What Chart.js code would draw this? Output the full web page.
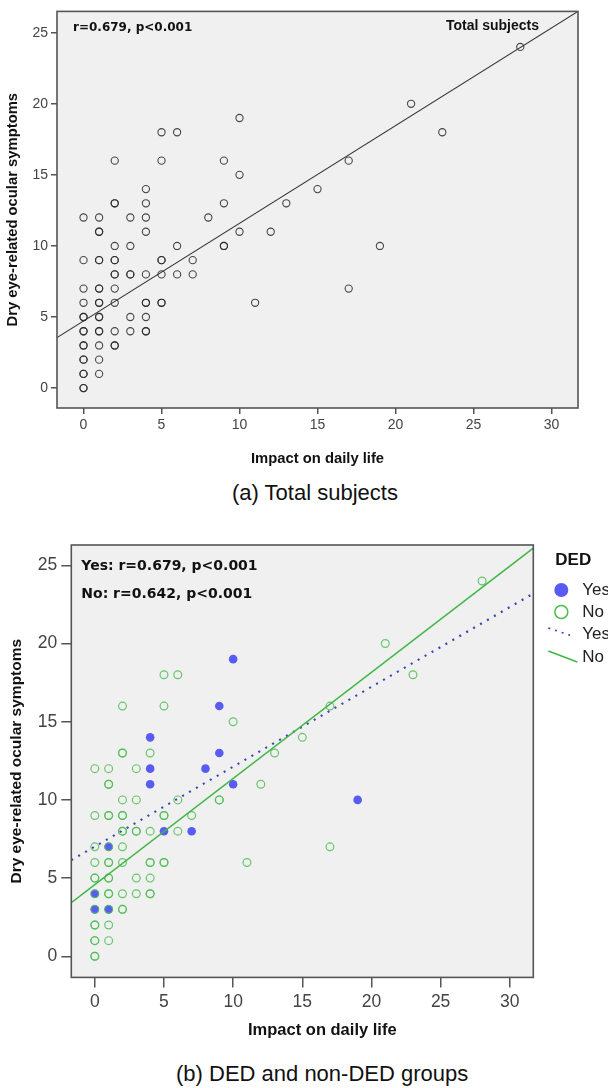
<!DOCTYPE html>
<html>
<head>
<meta charset="utf-8">
<title>Dry eye symptoms vs impact on daily life</title>
<script src="https://cdn.jsdelivr.net/npm/chart.js@4.4.1/dist/chart.umd.min.js"></script>
<style>
  body { margin: 0; width: 608px; height: 1088px; background: #fff; position: relative; overflow: hidden;
         font-family: "Liberation Sans", Arial, Helvetica, sans-serif; }
  canvas { position: absolute; left: 0; }
  #totalChart { top: 0; }
  #groupChart { top: 530px; }
  .caption { position: absolute; font-size: 22px; color: #111; white-space: nowrap; }
</style>
</head>
<body>
<canvas id="totalChart" width="608" height="472"></canvas>
<div class="caption" style="left:232px; top:480px;">(a) Total subjects</div>
<canvas id="groupChart" width="608" height="514"></canvas>
<div class="caption" style="left:176px; top:1061px;">(b) DED and non-DED groups</div>
<script>
// ---- data (x = impact on daily life, y = dry eye-related ocular symptoms)
// repeated pairs are subjects stacked on the same spot (drawn darker in the original)

// (a) total subjects
const totalImpact = [
  28, 21, 10, 5, 6, 23, 2, 5, 9, 17, 10, 4, 15,
  2, 2, 4, 9, 13, 0, 1, 3, 4, 8, 1, 1, 4, 10, 12,
  2, 3, 6, 9, 9, 19, 0, 1, 1, 2, 2, 5, 5, 7,
  2, 2, 3, 3, 4, 5, 6, 7, 0, 1, 1, 2, 17,
  0, 1, 1, 2, 4, 4, 5, 5, 11, 0, 0, 1, 1, 3, 4,
  0, 0, 1, 1, 2, 3, 4, 4, 0, 0, 1, 2, 2, 0, 0, 1, 0, 0, 1, 0, 0
]
const totalSymptoms = [
  24, 20, 19, 18, 18, 18, 16, 16, 16, 16, 15, 14, 14,
  13, 13, 13, 13, 13, 12, 12, 12, 12, 12, 11, 11, 11, 11, 11,
  10, 10, 10, 10, 10, 10, 9, 9, 9, 9, 9, 9, 9, 9,
  8, 8, 8, 8, 8, 8, 8, 8, 7, 7, 7, 7, 7,
  6, 6, 6, 6, 6, 6, 6, 6, 6, 5, 5, 5, 5, 5, 5,
  4, 4, 4, 4, 4, 4, 4, 4, 3, 3, 3, 3, 3, 2, 2, 2, 1, 1, 1, 0, 0
]

// (b) DED = Yes
const yesImpact   = [10, 9, 4, 9, 4, 8, 4, 10, 19, 5, 7, 1, 0, 0, 1]
const yesSymptoms = [19, 16, 14, 13, 12, 12, 11, 11, 10, 8, 8, 7, 4, 3, 3]

// (b) DED = No
const noImpact = [
  28, 21, 5, 6, 23, 2, 5, 17, 10, 15,
  2, 2, 4, 13, 0, 1, 3, 1, 1, 12,
  2, 3, 6, 9, 9, 0, 1, 1, 2, 2, 5, 5, 7,
  2, 2, 3, 3, 4, 6, 0, 1, 2, 17,
  0, 1, 1, 2, 4, 4, 5, 5, 11, 0, 0, 1, 1, 3, 4,
  0, 1, 1, 2, 3, 4, 4, 0, 1, 2, 2, 0, 0, 1, 0, 0, 1, 0, 0
]
const noSymptoms = [
  24, 20, 18, 18, 18, 16, 16, 16, 15, 14,
  13, 13, 13, 13, 12, 12, 12, 11, 11, 11,
  10, 10, 10, 10, 10, 9, 9, 9, 9, 9, 9, 9, 9,
  8, 8, 8, 8, 8, 8, 7, 7, 7, 7,
  6, 6, 6, 6, 6, 6, 6, 6, 6, 5, 5, 5, 5, 5, 5,
  4, 4, 4, 4, 4, 4, 4, 3, 3, 3, 3, 2, 2, 2, 1, 1, 1, 0, 0
]

// fit lines, end points read where they meet the frame
const fitImpact = [-1.7, 31.7]
const fitTotal  = [3.55, 26.5]
const fitYes    = [6.15, 23.2]
const fitNo     = [3.43, 26.1]

// axes
const xTickValues = [0, 5, 10, 15, 20, 25, 30]
const yTickValues = [0, 5, 10, 15, 20, 25]
const xLimits = [-1.7, 31.7]
const yLimitsTotal = [-1.4, 26.5]
const yLimitsGroup = [-1.35, 26.3]

const xTitle = 'Impact on daily life'
const yTitle = 'Dry eye-related ocular symptoms'
const groupLabels = ['Yes', 'No']
const statTotal = 'r=0.679, p<0.001'
const statYes = 'Yes: r=0.679, p<0.001'
const statNo = 'No: r=0.642, p<0.001'

const FONT = '"Liberation Sans", Arial, Helvetica, sans-serif'
const NOTE_FONT = '"DejaVu Sans", Verdana, sans-serif'
const blue = 'rgb(88, 92, 245)'
const green = 'rgb(78, 190, 82)'

function toPoints(xs, ys) {
  return xs.map((x, i) => ({ x: x, y: ys[i] }))
}

// scales with fixed sizes so the plot frame lands where the original one is
function buildScales(o) {
  return {
    x: {
      type: 'linear', min: xLimits[0], max: xLimits[1],
      afterBuildTicks: s => { s.ticks = xTickValues.map(v => ({ value: v })) },
      afterFit: s => { s.height = o.xHeight },
      ticks: { color: '#444', font: { family: FONT, size: o.tickSize }, padding: o.tickPad, maxRotation: 0 },
      grid: { drawOnChartArea: false, drawTicks: true, tickLength: o.tickLen, color: '#555', lineWidth: 1.5 },
      border: { display: false },
      title: { display: o.xTitleShown, text: xTitle, color: '#111',
               font: { family: FONT, size: o.xTitleSize, weight: 'bold' }, padding: { top: 4, bottom: 4 } }
    },
    y: {
      type: 'linear', min: o.yLimits[0], max: o.yLimits[1],
      afterBuildTicks: s => { s.ticks = yTickValues.map(v => ({ value: v })) },
      afterFit: s => { s.width = o.yWidth },
      ticks: { color: '#444', font: { family: FONT, size: o.tickSize }, padding: o.tickPad },
      grid: { drawOnChartArea: false, drawTicks: true, tickLength: o.tickLen, color: '#555', lineWidth: 1.5 },
      border: { display: false },
      title: { display: true, text: yTitle, color: '#111',
               font: { family: FONT, size: o.yTitleSize, weight: 'bold' }, padding: { top: o.yTitlePad, bottom: 4 } }
    }
  }
}

// grey plot background + box frame like the SPSS output
const framePlugin = {
  id: 'frame',
  beforeDatasetsDraw(chart) {
    const a = chart.chartArea, ctx = chart.ctx
    ctx.save()
    ctx.fillStyle = '#f0f0f0'
    ctx.fillRect(a.left, a.top, a.right - a.left, a.bottom - a.top)
    ctx.restore()
  },
  afterDraw(chart) {
    const a = chart.chartArea, ctx = chart.ctx
    ctx.save()
    ctx.strokeStyle = '#555'
    ctx.lineWidth = 1.6
    ctx.strokeRect(a.left, a.top, a.right - a.left, a.bottom - a.top)
    ctx.restore()
  }
}

// text notes placed relative to the plot frame (correlation values etc)
function notesPlugin(notes) {
  return {
    id: 'notes',
    afterDraw(chart) {
      const a = chart.chartArea, ctx = chart.ctx
      ctx.save()
      ctx.fillStyle = '#111'
      ctx.textBaseline = 'middle'
      notes.forEach(n => {
        ctx.font = 'bold ' + n.size + 'px ' + (n.family || NOTE_FONT)
        ctx.textAlign = n.align
        let x
        if (n.align === 'right') x = a.right - n.dx
        else if (n.align === 'center') x = (a.left + a.right) / 2 + n.dx
        else x = a.left + n.dx
        const y = n.below ? a.bottom + n.dy : a.top + n.dy
        ctx.fillText(n.text, x, y)
      })
      ctx.restore()
    }
  }
}

// legend on the right of (b), cut by the page edge as in the original
const groupLegend = {
  id: 'groupLegend',
  afterDraw(chart) {
    const ctx = chart.ctx, a = chart.chartArea
    const ds = chart.data.datasets
    const x0 = a.right + 15
    ctx.save()
    ctx.fillStyle = '#111'
    ctx.textBaseline = 'middle'
    ctx.font = 'bold 17px ' + FONT
    ctx.fillText('DED', x0 + 7, 30)

    // filled dot
    ctx.beginPath(); ctx.arc(x0 + 13, 60, 7, 0, Math.PI * 2)
    ctx.fillStyle = ds[0].backgroundColor; ctx.fill()
    // open ring
    ctx.beginPath(); ctx.arc(x0 + 13, 82, 6.5, 0, Math.PI * 2)
    ctx.strokeStyle = ds[1].borderColor; ctx.lineWidth = 1.5; ctx.stroke()
    // dotted fit
    ctx.beginPath(); ctx.setLineDash([2, 5]); ctx.lineWidth = 1.6
    ctx.strokeStyle = ds[2].borderColor
    ctx.moveTo(x0, 98); ctx.lineTo(x0 + 24, 106); ctx.stroke()
    // solid fit
    ctx.setLineDash([]); ctx.beginPath(); ctx.strokeStyle = ds[3].borderColor; ctx.lineWidth = 1.5
    ctx.moveTo(x0, 121); ctx.lineTo(x0 + 29, 132); ctx.stroke()

    ctx.font = '17px ' + FONT
    ctx.fillStyle = '#222'
    const rows = [60, 82, 104, 127]
    ds.forEach((d, i) => ctx.fillText(d.label, x0 + 34, rows[i]))
    ctx.restore()
  }
}

Chart.defaults.font.family = FONT

new Chart(document.getElementById('totalChart').getContext('2d'), {
  type: 'scatter',
  data: {
    datasets: [
      {
        type: 'line', label: 'Fit', data: toPoints(fitImpact, fitTotal),
        borderColor: '#333', borderWidth: 1.1, pointRadius: 0, order: 0
      },
      {
        label: 'Total subjects', data: toPoints(totalImpact, totalSymptoms),
        pointRadius: 3.6, pointBorderWidth: 1.1, pointBorderColor: 'rgba(40,40,40,0.85)',
        pointBackgroundColor: 'rgba(0,0,0,0)', order: 1
      }
    ]
  },
  options: {
    responsive: false, animation: false, devicePixelRatio: 1,
    layout: { padding: { top: 11, right: 30, left: 0, bottom: 0 } },
    scales: buildScales({ xHeight: 64, yWidth: 57, tickSize: 14, tickPad: 3, tickLen: 6,
                          xTitleShown: true, xTitleSize: 14.8, yTitleSize: 14.8, yTitlePad: 4, yLimits: yLimitsTotal }),
    plugins: { legend: { display: false }, tooltip: { enabled: false } }
  },
  plugins: [framePlugin, notesPlugin([
    { text: statTotal, dx: 16, dy: 16, align: 'left', size: 12 },
    { text: 'Total subjects', dx: 39, dy: 15, align: 'right', size: 14, family: FONT }
  ])]
})

new Chart(document.getElementById('groupChart').getContext('2d'), {
  type: 'scatter',
  data: {
    datasets: [
      {
        label: groupLabels[0], data: toPoints(yesImpact, yesSymptoms),
        pointRadius: 4.3, pointBorderWidth: 0, backgroundColor: blue, borderColor: blue, order: 3
      },
      {
        label: groupLabels[1], data: toPoints(noImpact, noSymptoms),
        pointRadius: 3.9, pointBorderWidth: 1.2, borderColor: green, pointBorderColor: 'rgba(78,190,82,0.85)',
        pointBackgroundColor: 'rgba(0,0,0,0)', order: 2
      },
      {
        type: 'line', label: groupLabels[0], data: toPoints(fitImpact, fitYes),
        borderColor: 'rgb(58, 64, 178)', borderWidth: 2.2, borderDash: [2, 6], pointRadius: 0, order: 1
      },
      {
        type: 'line', label: groupLabels[1], data: toPoints(fitImpact, fitNo),
        borderColor: 'rgb(64, 182, 68)', borderWidth: 1.5, pointRadius: 0, order: 0
      }
    ]
  },
  options: {
    responsive: false, animation: false, devicePixelRatio: 1,
    layout: { padding: { top: 15, right: 74.7, left: 0, bottom: 0 } },
    scales: buildScales({ xHeight: 66.6, yWidth: 71.3, tickSize: 17.5, tickPad: 4, tickLen: 10,
                          xTitleShown: false, yTitleSize: 15.5, yTitlePad: 7, yLimits: yLimitsGroup }),
    plugins: { legend: { display: false }, tooltip: { enabled: false } }
  },
  plugins: [framePlugin, notesPlugin([
    { text: statYes, dx: 10, dy: 21, align: 'left', size: 14 },
    { text: statNo, dx: 10, dy: 49, align: 'left', size: 14 },
    { text: xTitle, dx: 20, dy: 53, align: 'center', size: 16.5, family: FONT, below: true }
  ]), groupLegend]
})
</script>
</body>
</html>
